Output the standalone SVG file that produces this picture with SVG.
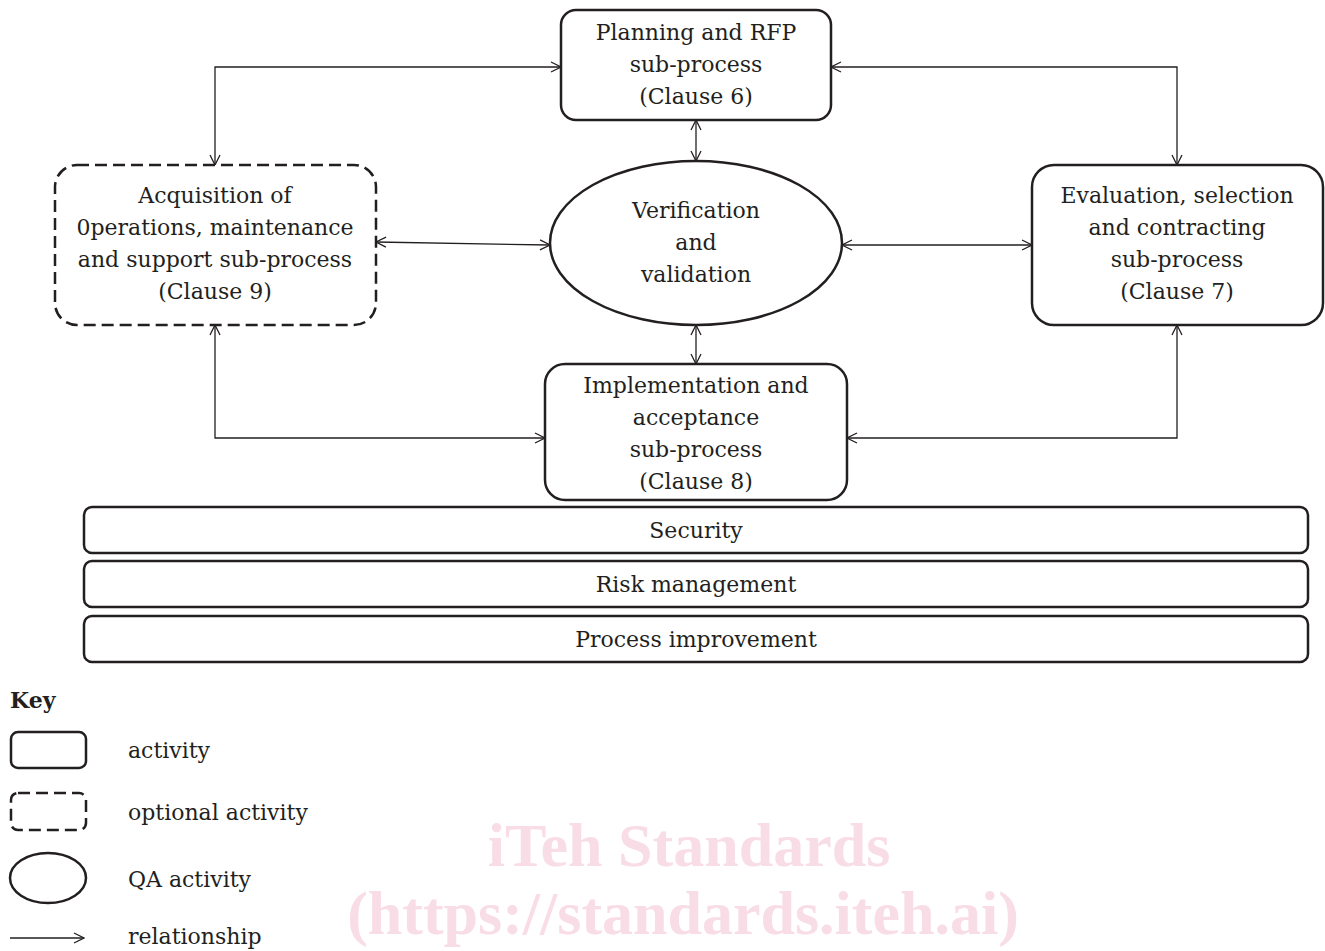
<svg xmlns="http://www.w3.org/2000/svg" width="1325" height="951" viewBox="0 0 1325 951">
<style>
.t{font-family:"DejaVu Serif","Liberation Serif",serif;font-size:22px;fill:#231f20;text-anchor:middle;dominant-baseline:central}
.k{font-family:"DejaVu Serif","Liberation Serif",serif;font-size:22px;fill:#231f20;dominant-baseline:central}
.box{fill:#fff;stroke:#231f20;stroke-width:2.5}
.dash{fill:#fff;stroke:#231f20;stroke-width:2.5;stroke-dasharray:12 6}
.c{fill:none;stroke:#231f20;stroke-width:1.3}
.wm{font-family:"Liberation Serif","Times New Roman",serif;font-weight:bold;font-size:62px;fill:#f9dde6;text-anchor:middle}
</style>
<defs>
<marker id="a" viewBox="0 0 12 12" refX="11" refY="6" markerWidth="12" markerHeight="12" markerUnits="userSpaceOnUse" orient="auto-start-reverse">
<path d="M1,1 L11,6 L1,11" fill="none" stroke="#231f20" stroke-width="1.3"/>
</marker>
</defs>
<g id="watermark">
<text class="wm" x="689" y="866">iTeh Standards</text>
<text class="wm" x="683" y="934">(https://standards.iteh.ai)</text>
</g>
<g id="connectors">
<path class="c" d="M215,165 V67 H561" marker-start="url(#a)" marker-end="url(#a)"/>
<path class="c" d="M831,67 H1177 V165" marker-start="url(#a)" marker-end="url(#a)"/>
<path class="c" d="M696,120 V161" marker-start="url(#a)" marker-end="url(#a)"/>
<path class="c" d="M376,242 L550,245" marker-start="url(#a)" marker-end="url(#a)"/>
<path class="c" d="M842,245 H1032" marker-start="url(#a)" marker-end="url(#a)"/>
<path class="c" d="M696,325 V364" marker-start="url(#a)" marker-end="url(#a)"/>
<path class="c" d="M215,325 V438 H545" marker-start="url(#a)" marker-end="url(#a)"/>
<path class="c" d="M1177,325 V438 H847" marker-start="url(#a)" marker-end="url(#a)"/>
</g>
<g id="planning">
<rect class="box" x="561" y="10" width="270" height="110" rx="15"/>
<text class="t" x="696" y="32">Planning and RFP</text>
<text class="t" x="696" y="64">sub-process</text>
<text class="t" x="696" y="96">(Clause 6)</text>
</g>
<g id="acquisition">
<rect class="dash" x="55" y="165" width="321" height="160" rx="22"/>
<text class="t" x="215" y="195">Acquisition of</text>
<text class="t" x="215" y="227">0perations, maintenance</text>
<text class="t" x="215" y="259">and support sub-process</text>
<text class="t" x="215" y="291">(Clause 9)</text>
</g>
<g id="evaluation">
<rect class="box" x="1032" y="165" width="291" height="160" rx="22"/>
<text class="t" x="1177" y="195">Evaluation, selection</text>
<text class="t" x="1177" y="227">and contracting</text>
<text class="t" x="1177" y="259">sub-process</text>
<text class="t" x="1177" y="291">(Clause 7)</text>
</g>
<g id="vv">
<ellipse class="box" cx="696" cy="243" rx="146" ry="82"/>
<text class="t" x="696" y="210">Verification</text>
<text class="t" x="696" y="242">and</text>
<text class="t" x="696" y="274">validation</text>
</g>
<g id="implementation">
<rect class="box" x="545" y="364" width="302" height="136" rx="20"/>
<text class="t" x="696" y="385">Implementation and</text>
<text class="t" x="696" y="417">acceptance</text>
<text class="t" x="696" y="449">sub-process</text>
<text class="t" x="696" y="481">(Clause 8)</text>
</g>
<g id="security">
<rect class="box" x="84" y="507" width="1224" height="46" rx="8"/>
<text class="t" x="696" y="530">Security</text>
</g>
<g id="risk">
<rect class="box" x="84" y="561" width="1224" height="46" rx="8"/>
<text class="t" x="696" y="584">Risk management</text>
</g>
<g id="improvement">
<rect class="box" x="84" y="616" width="1224" height="46" rx="8"/>
<text class="t" x="696" y="639">Process improvement</text>
</g>
<g id="key">
<text class="k" x="10" y="700" font-weight="bold">Key</text>
<rect class="box" x="11" y="732" width="75" height="36" rx="7"/>
<text class="k" x="128" y="750">activity</text>
<rect class="dash" x="11" y="793" width="75" height="37" rx="7" stroke-dasharray="10 5"/>
<text class="k" x="128" y="812">optional activity</text>
<ellipse class="box" cx="48" cy="878" rx="38" ry="25"/>
<text class="k" x="128" y="879">QA activity</text>
<path class="c" d="M10,938 H84" marker-end="url(#a)"/>
<text class="k" x="128" y="936">relationship</text>
</g>
</svg>
